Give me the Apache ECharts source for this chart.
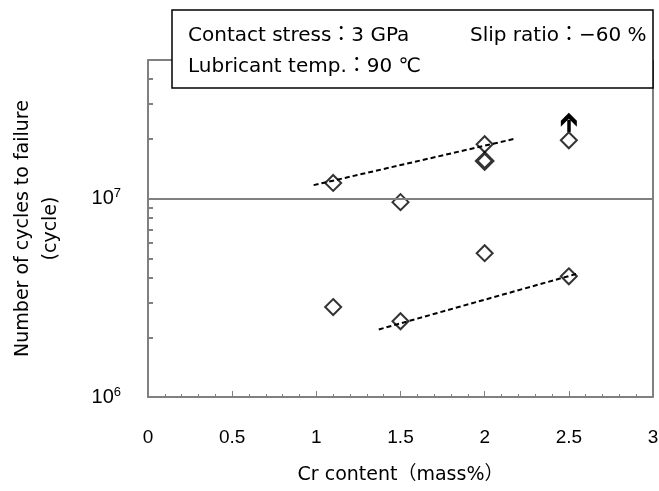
<!DOCTYPE html>
<html>
<head>
<meta charset="utf-8">
<script src="https://cdn.jsdelivr.net/npm/echarts@6/dist/echarts.min.js"></script>
<style>
html,body{margin:0;padding:0;background:#fff;}
#chart{width:659px;height:491px;}
</style>
</head>
<body>
<div id="chart"></div>
<script>
// ---- data ----
const crContent = [1.1, 1.5, 2.0, 2.5, 1.1, 1.5, 2.0, 2.5];
const cyclesToFailure = [1.2e7, 9.6e6, 1.88e7, 1.97e7, 2.84e6, 2.41e6, 5.31e6, 4.06e6];
const boldCr = [2.0];
const boldCycles = [1.55e7];
const runoutArrowX = [2.5, 2.5];
const runoutArrowY = [2.17e7, 2.5e7];
const trendUpperX = [0.984, 2.174];
const trendUpperY = [1.17e7, 2.0e7];
const trendLowerX = [1.371, 2.561];
const trendLowerY = [2.19e6, 4.21e6];
const yMinorTicks = [2e6, 3e6, 4e6, 5e6, 6e6, 7e6, 8e6, 9e6, 2e7, 3e7, 4e7];
const yMin = 1e6, yMax = 5e7;
const xMin = 0, xMax = 3, xStep = 0.5;
const refLineValue = 1e7;
const boxLines = ['Contact stress：3 GPa', 'Slip ratio：−60 %', 'Lubricant temp.：90 ℃'];
const xName = 'Cr content（mass%）';
const yName = 'Number of cycles to failure\n(cycle)';

const TEXT_FONT = '"DejaVu Sans", "Noto Sans CJK JP", sans-serif';
const NUM_FONT = '"Liberation Sans", "Noto Sans CJK JP", sans-serif';
const zip = (a, b) => a.map((v, i) => [v, b[i]]);

const chart = echarts.init(document.getElementById('chart'), null, {renderer: 'canvas'});
const option = {
  animation: false,
  backgroundColor: '#fff',
  textStyle: {fontFamily: TEXT_FONT},
  grid: {left: 148, right: 6, top: 60, bottom: 94, show: true, borderColor: '#000', borderWidth: 1,
         backgroundColor: 'transparent', containLabel: false, outerBoundsMode: 'none'},
  xAxis: {
    type: 'value', min: xMin, max: xMax, interval: xStep,
    name: xName, nameLocation: 'middle', nameGap: 69,
    nameTextStyle: {fontSize: 19, color: '#000', fontFamily: TEXT_FONT},
    axisLine: {show: true, lineStyle: {color: '#808080', width: 2}},
    axisTick: {show: true, inside: true, length: 6, lineStyle: {color: '#808080', width: 1}},
    minorTick: {show: true, splitNumber: 5, length: 3, lineStyle: {color: '#808080', width: 1}},
    axisLabel: {fontSize: 19, color: '#000', margin: 31, fontFamily: NUM_FONT},
    splitLine: {show: false}
  },
  yAxis: [{
    type: 'log', logBase: 10, min: yMin, max: yMax,
    name: yName, nameLocation: 'middle', nameRotate: 90, nameGap: 83,
    nameTextStyle: {fontSize: 19, color: '#000', lineHeight: 28, fontFamily: TEXT_FONT},
    axisLine: {show: true, lineStyle: {color: '#808080', width: 2}},
    axisTick: {show: false},
    axisLabel: {
      margin: 27, color: '#000', fontSize: 20, fontFamily: NUM_FONT,
      formatter: function (v) {
        const e = Math.log10(v);
        if (Math.abs(e - Math.round(e)) > 1e-6) return '';
        return '10{sup|' + Math.round(e) + '}';
      },
      rich: {sup: {fontSize: 13, verticalAlign: 'top', padding: [0, 0, 10, 0], color: '#000', fontFamily: NUM_FONT}}
    },
    splitLine: {show: false}
  }, {
    type: 'value', min: Math.log10(yMin), max: Math.log10(yMax), position: 'left',
    axisLine: {show: false},
    axisLabel: {show: false},
    splitLine: {show: false},
    axisTick: {show: true, inside: true, length: 5, lineStyle: {color: '#808080', width: 2},
      customValues: yMinorTicks.map(v => Math.log10(v))}
  }],
  series: [
    {
      type: 'line', data: zip(trendUpperX, trendUpperY), symbol: 'none', silent: true,
      lineStyle: {color: '#000', width: 2, type: [5, 3]}, z: 3,
      markLine: {
        silent: true, symbol: 'none', label: {show: false},
        lineStyle: {color: '#808080', width: 2, type: 'solid'},
        data: [{yAxis: refLineValue}]
      }
    },
    {
      type: 'line', data: zip(trendLowerX, trendLowerY), symbol: 'none', silent: true,
      lineStyle: {color: '#000', width: 2, type: [5, 3]}, z: 3
    },
    {
      type: 'scatter', data: zip(crContent, cyclesToFailure), symbol: 'diamond', symbolSize: 16,
      itemStyle: {color: 'rgba(0,0,0,0)', borderColor: '#000', borderWidth: 2}, z: 4
    },
    {
      type: 'scatter', data: zip(boldCr, boldCycles), symbol: 'diamond', symbolSize: 16,
      itemStyle: {color: 'rgba(0,0,0,0)', borderColor: '#000', borderWidth: 3.2}, z: 4,
      markLine: {
        silent: true, label: {show: false},
        symbol: ['none', 'path://M0,0 L8,8 L8,14 L0,6 L-8,14 L-8,8 Z'], symbolSize: [16, 14],
        lineStyle: {color: '#000', width: 3.5, type: 'solid'},
        data: [[{coord: [runoutArrowX[0], runoutArrowY[0]]}, {coord: [runoutArrowX[1], runoutArrowY[1]]}]]
      }
    }
  ],
  graphic: [
    {type: 'rect', z: 100, shape: {x: 172, y: 10, width: 481, height: 78},
     style: {fill: '#fff', stroke: '#000', lineWidth: 1.5}},
    {type: 'text', z: 101, x: 188, y: 36, style: {text: boxLines[0], fill: '#000', font: '20px ' + TEXT_FONT, verticalAlign: 'middle'}},
    {type: 'text', z: 101, x: 470, y: 36, style: {text: boxLines[1], fill: '#000', font: '20px ' + TEXT_FONT, verticalAlign: 'middle'}},
    {type: 'text', z: 101, x: 188, y: 67, style: {text: boxLines[2], fill: '#000', font: '20px ' + TEXT_FONT, verticalAlign: 'middle'}}
  ]
};
chart.setOption(option);
</script>
</body>
</html>
